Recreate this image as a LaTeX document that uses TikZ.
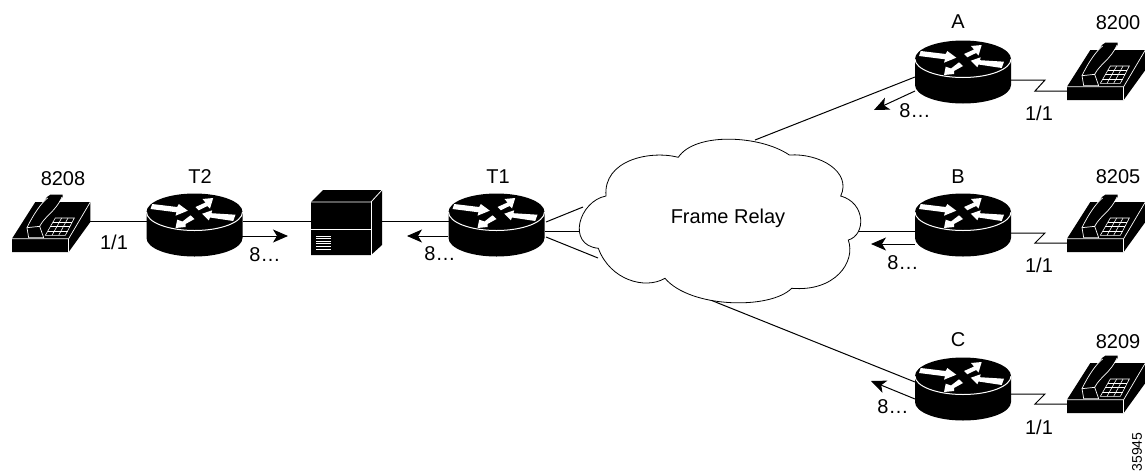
\documentclass[tikz,border=0pt]{standalone}
\usepackage{fontspec}
\setmainfont{Liberation Sans}
\usetikzlibrary{arrows.meta,calc}

\tikzset{
  router/.pic={
    \fill[black] (-48,0) -- (-48,26) arc[start angle=180,end angle=360,x radius=48pt,y radius=18.5pt]
      -- (48,0) arc[start angle=0,end angle=180,x radius=48pt,y radius=18.5pt] -- cycle;
    \draw[white,line width=1pt] (-48,0) arc[start angle=180,end angle=360,x radius=48pt,y radius=18.5pt];
    \fill[white] (-42.3,-8) -- (-17.3,-5) -- (-15.7,-8) -- (-6.7,-1.3) -- (-19,3.7) -- (-18,.3) -- (-44,-3) -- cycle;
    \fill[white] (1,-5) -- (11,-9.5) -- (8,-13) -- (18.7,-14) -- (15.5,-3.5) -- (13,-6) -- (4.3,-1.7) -- cycle;
    \fill[white] (41,2.7) -- (17,1.2) -- (17.7,-1.7) -- (7.7,1.7) -- (14.3,8.3) -- (15.5,5.5) -- (38.7,9) -- cycle;
    \fill[white] (-4,3.3) -- (-12,9.5) -- (-17.3,7.7) -- (-19,16) -- (-9,15) -- (-9,12) -- (0,7) -- cycle;
    \coordinate (-w) at (-48,9);
    \coordinate (-e) at (48,9);
  },
  phone/.pic={
    \begin{scope}[x=.3333pt,y=-.3333pt,shift={(-35,-305)}]
    \fill[black] (35,305) -- (35,265) -- (105,155) -- (270,155) -- (270,215) -- (205,305) -- cycle;
    \draw[white,line width=.7pt] (35,265) -- (205,265) -- (270,155);
    \draw[white,line width=.7pt] (205,265) -- (205,305);
    \fill[black] (78,232) -- (140,140) -- (150,133) -- (187,133) -- (187,140) -- (118,232) -- cycle;
    \draw[white,line width=.7pt] (80,232) .. controls (100,190) and (125,155) .. (142,143);
    \draw[white,line width=.7pt] (118,228) .. controls (135,195) and (165,185) .. (185,140);
    \draw[white,line width=.7pt] (80,232) -- (118,228) -- (130,262) -- (85,262) -- cycle;
    \draw[white,line width=.6pt] (135,255) -- (195,255) -- (222,203) -- (165,203) -- cycle;
    \foreach \i in {1,2,3} {
      \draw[white,line width=.6pt] ($(135,255)!\i/4!(165,203)$) -- ($(195,255)!\i/4!(222,203)$);
    }
    \foreach \i in {1,2} {
      \draw[white,line width=.6pt] ($(135,255)!\i/3!(195,255)$) -- ($(165,203)!\i/3!(222,203)$);
    }
    \end{scope}
    \coordinate (-w) at (0,-9);
    \coordinate (-e) at (78,-31);
  },
}

\begin{document}
\begin{tikzpicture}[x=1pt,y=-1pt]
\tikzstyle{tag}=[font=\fontsize{20}{22}\selectfont, inner sep=0pt]
\tikzstyle{link}=[line width=1pt, black]
\tikzstyle{flow}=[line width=1pt, black, -{Stealth[length=15pt,width=13pt,inset=4pt]}]
\useasboundingbox (0,0) rectangle (1145,472);

\pic (T2) at (194.5,212) {router};
\pic (T1) at (496.5,212) {router};
\pic (A) at (963,59) {router};
\pic (B) at (963,212) {router};
\pic (C) at (963,376) {router};

\pic (P8208) at (12,252) {phone};
\pic (P8200) at (1067,100) {phone};
\pic (P8205) at (1067,252) {phone};
\pic (P8209) at (1067,413) {phone};

% box between T2 and T1
\fill[black] (311,202) -- (323,190) -- (382,190) -- (382,245) -- (371,255) -- (311,255) -- cycle;
\draw[white,line width=.8pt] (311,202) -- (371,202) -- (382,190);
\draw[white,line width=.8pt] (371,202) -- (371,255);
\draw[white,line width=.8pt] (311,229) -- (371,229);
\foreach \y in {236,238.6,241.2,243.8,246.4,249} {
  \draw[white,line width=.8pt] (316,\y) -- (331,\y);
}
\coordinate (boxW) at (311,221);
\coordinate (boxE) at (382,221);

\coordinate (cA) at (755,140);
\coordinate (cB) at (850,231);
\coordinate (cC) at (708,299);
\coordinate (c1) at (583,207);
\coordinate (c2) at (582,231);
\coordinate (c3) at (598,258);
\coordinate (t1a) at (546,222);
\coordinate (t1b) at (545,231);
\coordinate (t1c) at (546,237);
\coordinate (Ain) at (915,77);
\coordinate (Bin) at (915,231);
\coordinate (Cin) at (915,382);

\draw[link] (P8208-e |- T2-w) -- (T2-w);
\draw[link] (T2-e) -- (boxW);
\draw[link] (boxE) -- (T1-w);
\draw[link] (t1a) -- (c1);
\draw[link] (t1b) -- (c2);
\draw[link] (t1c) -- (c3);
\draw[link] (cA) -- (Ain);
\draw[link] (cB) -- (Bin);
\draw[link] (cC) -- (Cin);

% the cloud
\draw[black,fill=white,line width=.8pt] (678.3,157.3) .. controls (695,132) and (760,135) .. (789.3,155)
  .. controls (820,153) and (852,172) .. (840.7,196)
  .. controls (866,203) and (866,235) .. (848.3,240)
  .. controls (856,262) and (835,292) .. (791.7,288.3)
  .. controls (770,310) and (690,308) .. (665,278.3)
  .. controls (645,290) and (610,280) .. (598.3,248.3)
  .. controls (566,245) and (579,201) .. (606,196)
  .. controls (603,160) and (650,150) .. (678.3,157.3);
\node[tag] (FR) at (728,218) {Frame Relay};

% zigzags to the phones
\draw[link] (A-e |- 0,80) -- ++(34,0) -- ++(-10,11) -- (P8200-w);
\draw[link] (B-e |- 0,233) -- ++(34,0) -- ++(-10,10) -- (P8205-w |- 0,243);
\draw[link] (C-e |- 0,394) -- ++(34,0) -- ++(-10,10) -- (P8209-w);

% arrows
\coordinate (fT2a) at (242,236);
\coordinate (fT2b) at (288,236);
\coordinate (fT1a) at (448,236);
\coordinate (fT1b) at (407,236);
\coordinate (fAa) at (915,91);
\coordinate (fAb) at (874,110);
\coordinate (fBa) at (915,244);
\coordinate (fBb) at (871,244);
\coordinate (fCa) at (915,399);
\coordinate (fCb) at (871,381);
\draw[flow] (fT2a) -- (fT2b);
\draw[flow] (fT1a) -- (fT1b);
\draw[flow] (fAa) -- (fAb);
\draw[flow] (fBa) -- (fBb);
\draw[flow] (fCa) -- (fCb);

\node[tag] (n8208) at (63,179) {8208};
\node[tag] (n8200) at (1118,23) {8200};
\node[tag] (n8205) at (1118,177) {8205};
\node[tag] (n8209) at (1118,342) {8209};
\node[tag] (lT2) at (200,177) {T2};
\node[tag] (lT1) at (498,177) {T1};
\node[tag] (lA) at (958,22) {A};
\node[tag] (lB) at (958,177) {B};
\node[tag] (lC) at (958,340) {C};
\node[tag] (o8208) at (114,242) {1/1};
\node[tag] (o8200) at (1039,113) {1/1};
\node[tag] (o8205) at (1039,265) {1/1};
\node[tag] (o8209) at (1039,427) {1/1};
\node[tag] (dT2) at (265,255) {8…};
\node[tag] (dT1) at (440,254) {8…};
\node[tag] (dA) at (915,111) {8…};
\node[tag] (dB) at (903,263) {8…};
\node[tag] (dC) at (893,407) {8…};
\node[font=\fontsize{14}{16}\selectfont, inner sep=0pt, rotate=90] (fig) at (1137,452) {35945};
\end{tikzpicture}
\end{document}
